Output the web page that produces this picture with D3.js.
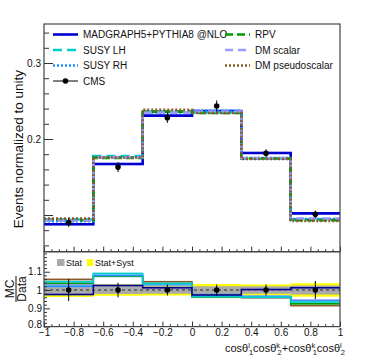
<!DOCTYPE html>
<html><head><meta charset="utf-8">
<script src="https://cdn.jsdelivr.net/npm/d3@7"></script>
<style>
html,body{margin:0;padding:0;background:#fff;}
svg{display:block;font-family:"Liberation Sans",Arial,sans-serif;}
</style></head>
<body><svg id="c" width="370" height="360"></svg>
<script>
// ---- data ----
const binEdges = [-1, -0.6667, -0.3333, 0, 0.3333, 0.6667, 1];
const binCenters = [-0.8333, -0.5, -0.1667, 0.1667, 0.5, 0.8333];
const dataVals = [0.0900, 0.1630, 0.2280, 0.2434, 0.1812, 0.1009];
const dataErrs = [0.0054, 0.0065, 0.0068, 0.0073, 0.0054, 0.0050];
const mgVals   = [0.0878, 0.1671, 0.2307, 0.2368, 0.1816, 0.1022];
const susyLH   = [0.0941, 0.1777, 0.2360, 0.2349, 0.1740, 0.0943];
const susyRH   = [0.0918, 0.1760, 0.2348, 0.2373, 0.1749, 0.0948];
const rpvVals  = [0.0933, 0.1752, 0.2360, 0.2342, 0.1743, 0.0933];
const dmScalar = [0.0927, 0.1760, 0.2348, 0.2361, 0.1749, 0.0954];
const dmPseudo = [0.0952, 0.1757, 0.2383, 0.2342, 0.1736, 0.0923];
const statErr  = [0.025, 0.022, 0.02, 0.02, 0.02, 0.025];
const totErr   = [0.038, 0.032, 0.03, 0.033, 0.03, 0.037];
const yTopMajor = [0.1, 0.2, 0.3];
const yTopLabels = ["", "0.2", "0.3"];
const yRatMajor = [0.8, 0.9, 1.0, 1.1];
const yRatLabels = ["0.8", "0.9", "1", "1.1"];
const xMajor = [-1, -0.8, -0.6, -0.4, -0.2, 0, 0.2, 0.4, 0.6, 0.8, 1];
const xLabels = ["\u22121","\u22120.8","\u22120.6","\u22120.4","\u22120.2","0","0.2","0.4","0.6","0.8","1"];

const series = [
  {name:"MADGRAPH5+PYTHIA8 @NLO", vals:mgVals, color:"#0000d0", rcolor:"#000080", dash:null, w:2.6, band:"#8080ff"},
  {name:"SUSY LH", vals:susyLH, color:"#00cccc", rcolor:"#00cccc", dash:"9,5", w:2.6, band:"#66e0e0"},
  {name:"SUSY RH", vals:susyRH, color:"#1e90ff", rcolor:"#1e90ff", dash:"2,2", w:2.6, band:"#66b3ff"},
  {name:"RPV", vals:rpvVals, color:"#009900", rcolor:"#009900", dash:"8,4", w:2.6, band:"#66c266"},
  {name:"DM scalar", vals:dmScalar, color:"#9999ff", rcolor:"#9999ff", dash:"8,5", w:2.6, band:"#c2c2ff"},
  {name:"DM pseudoscalar", vals:dmPseudo, color:"#8b5a2b", rcolor:"#8b5a2b", dash:"2,2", w:2.6, band:"#b89070"}
];

// ---- layout ----
const L = 44, R = 340, T = 24, MID = 251.7, B = 326.6;
const svg = d3.select("#c");
const x = d3.scaleLinear().domain([-1, 1]).range([L, R]);
const yT = d3.scaleLinear().domain([0.2 - (MID-139)/760, 0.2 + (139-T)/760]).range([MID, T]);
const yR = d3.scaleLinear().domain([0.8, 0.8 + (B-MID)/182.9]).range([B, MID]);
const axisCol = "#333";

function stepPts(vals){ const p = vals.map((v,i)=>[binEdges[i], v]); p.push([1, vals[vals.length-1]]); return p; }

// ---- ratio bands ----
const gR = svg.append("g");
const bandArea = d3.area().curve(d3.curveStepAfter).x(d=>x(d[0])).y0(d=>yR(1-d[1])).y1(d=>yR(1+d[1]));
gR.append("path").attr("d", bandArea(stepPts(totErr))).attr("fill", "#ffff00");
gR.append("path").attr("d", bandArea(stepPts(statErr))).attr("fill", "#aaaaaa");
gR.append("line").attr("x1", x(-1)).attr("x2", x(1)).attr("y1", yR(1)).attr("y2", yR(1))
  .attr("stroke", "#555").attr("stroke-width", 1.5).attr("stroke-dasharray", "3,3");

const ratioLine = d3.line().curve(d3.curveStepAfter).x(d=>x(d[0])).y(d=>yR(d[1]));
const ratioBand = d3.area().curve(d3.curveStepAfter).x(d=>x(d[0])).y0(d=>yR(d[1]-0.006)).y1(d=>yR(d[1]+0.006));
series.slice().reverse().forEach(s=>{
  const r = s.vals.map((v,i)=>v/dataVals[i]);
  const p = stepPts(r);
  gR.append("path").attr("d", ratioBand(p)).attr("fill", s.band).attr("opacity", 0.55);
  gR.append("path").attr("d", ratioLine(p)).attr("fill","none").attr("stroke", s.rcolor).attr("stroke-width", 1.5);
});
binCenters.forEach((c,i)=>{
  const e = dataErrs[i]/dataVals[i];
  gR.append("line").attr("x1", x(c)).attr("x2", x(c)).attr("y1", yR(1-e)).attr("y2", yR(1+e)).attr("stroke","#000").attr("stroke-width",1);
  gR.append("circle").attr("cx", x(c)).attr("cy", yR(1)).attr("r", 2.8).attr("fill","#000");
});

// ---- upper histograms ----
const gT = svg.append("g");
const topLine = d3.line().curve(d3.curveStepAfter).x(d=>x(d[0])).y(d=>yT(d[1]));
gT.append("path").attr("d", d3.area().curve(d3.curveStepAfter).x(d=>x(d[0])).y0(d=>yT(d[1]-0.0015)).y1(d=>yT(d[1]+0.0015))(stepPts(mgVals)))
  .attr("fill", "#a0a0ff").attr("opacity", 0.7);
series.forEach(s=>{
  gT.append("path").attr("d", topLine(stepPts(s.vals))).attr("fill","none")
    .attr("stroke", s.color).attr("stroke-width", s.w).attr("stroke-dasharray", s.dash);
});
binCenters.forEach((c,i)=>{
  gT.append("line").attr("x1", x(c)).attr("x2", x(c)).attr("y1", yT(dataVals[i]-dataErrs[i])).attr("y2", yT(dataVals[i]+dataErrs[i])).attr("stroke","#000").attr("stroke-width",1);
  gT.append("circle").attr("cx", x(c)).attr("cy", yT(dataVals[i])).attr("r", 2.8).attr("fill","#000");
});

// ---- axes ----
const fs = "10px";
function styleText(g){ g.selectAll("text").attr("font-size", fs).attr("font-family","Liberation Sans, Arial").attr("fill","#111"); }
const yTopMinor = d3.range(0.06, 0.35, 0.02).filter(v=>!yTopMajor.some(m=>Math.abs(m-v)<1e-6));
svg.append("g").attr("transform", `translate(${L},0)`)
  .call(d3.axisLeft(yT).tickValues(yTopMinor).tickSize(-5).tickFormat(""))
  .call(g=>g.select(".domain").remove()).selectAll("line").attr("stroke", axisCol);
svg.append("g").attr("transform", `translate(${L},0)`)
  .call(d3.axisLeft(yT).tickValues(yTopMajor).tickSize(-9).tickPadding(3).tickFormat((d,i)=>yTopLabels[i]))
  .call(g=>g.select(".domain").remove())
  .call(g=>g.selectAll("line").attr("stroke", axisCol))
  .call(styleText);
const yRatMinor = d3.range(0.8, 1.21, 0.02).filter(v=>!yRatMajor.some(m=>Math.abs(m-v)<1e-6));
svg.append("g").attr("transform", `translate(${L},0)`)
  .call(d3.axisLeft(yR).tickValues(yRatMinor).tickSize(-3).tickFormat(""))
  .call(g=>g.select(".domain").remove()).selectAll("line").attr("stroke", axisCol);
svg.append("g").attr("transform", `translate(${L},0)`)
  .call(d3.axisLeft(yR).tickValues(yRatMajor).tickSize(-6).tickPadding(2).tickFormat((d,i)=>yRatLabels[i]))
  .call(g=>g.select(".domain").remove())
  .call(g=>g.selectAll("line").attr("stroke", axisCol))
  .call(styleText)
  .call(g=>g.selectAll("text").filter(d=>Math.abs(d-0.8)<1e-6).attr("y",-2.2));
const xMinor = d3.range(-1, 1.001, 0.05).filter(v=>!xMajor.some(m=>Math.abs(m-v)<1e-6));
[MID, B].forEach((yy, k)=>{
  svg.append("g").attr("transform", `translate(0,${yy})`)
    .call(d3.axisBottom(x).tickValues(xMinor).tickSize(-2.5).tickFormat(""))
    .call(g=>g.select(".domain").remove()).selectAll("line").attr("stroke", axisCol);
  svg.append("g").attr("transform", `translate(0,${yy})`)
    .call(d3.axisBottom(x).tickValues(xMajor).tickSize(-5).tickPadding(2.8).tickFormat((d,i)=> k===1 ? xLabels[i] : ""))
    .call(g=>g.select(".domain").remove())
    .call(g=>g.selectAll("line").attr("stroke", axisCol))
    .call(styleText);
});
svg.append("rect").attr("x", L).attr("y", T).attr("width", R-L).attr("height", MID-T).attr("fill","none").attr("stroke","#444").attr("stroke-width",1.2);
svg.append("rect").attr("x", L).attr("y", MID).attr("width", R-L).attr("height", B-MID).attr("fill","none").attr("stroke","#444").attr("stroke-width",1.2);

// ---- titles ----
svg.append("text").attr("transform", "translate(23,70) rotate(-90)").attr("text-anchor","end")
  .attr("font-size","13.5px").attr("fill","#111").text("Events normalized to unity");
const fr = svg.append("g").attr("transform","translate(16,289) rotate(-90)");
fr.append("text").attr("x",0).attr("y",-2.5).attr("text-anchor","middle").attr("font-size","12px").attr("fill","#111").text("MC");
fr.append("line").attr("x1",-13).attr("x2",13).attr("y1",0).attr("y2",0).attr("stroke","#111").attr("stroke-width",1);
fr.append("text").attr("x",0).attr("y",10).attr("text-anchor","middle").attr("font-size","12px").attr("fill","#111").text("Data");

// x title: pieces with absolute baselines
const xt = svg.append("text").attr("x", 225).attr("y", 352).attr("font-size","11px").attr("fill","#111");
const parts = [["cos\u03b8","m"],["l","s"],["1","b"],["cos\u03b8","m"],["k","s"],["2","b"],["+cos\u03b8","m"],["k","s"],["1","b"],["cos\u03b8","m"],["l","s"],["2","b"]];
parts.forEach((p,i)=>{
  const t = xt.append("tspan").text(p[0]);
  if(p[1]==="s"){ t.attr("font-size","7.5px").attr("y",347.5); }
  else if(p[1]==="b"){ t.attr("font-size","7.5px").attr("y",355).attr("dx", parts[i-1][0]==="k" ? -2.5 : -1); }
  else { t.attr("y",352); }
});

// ---- legend (upper) ----
const legL = [series[0], series[1], series[2], {name:"CMS", cms:true}];
const legR = [series[3], series[4], series[5]];
function legItem(s, x0, yy){
  if(s.cms){
    svg.append("line").attr("x1",x0).attr("x2",x0+25).attr("y1",yy).attr("y2",yy).attr("stroke","#000").attr("stroke-width",1);
    svg.append("circle").attr("cx",x0+12.5).attr("cy",yy).attr("r",2.8).attr("fill","#000");
  } else {
    svg.append("line").attr("x1",x0).attr("x2",x0+25).attr("y1",yy).attr("y2",yy).attr("stroke",s.color).attr("stroke-width",2.6).attr("stroke-dasharray",s.dash);
  }
  svg.append("text").attr("x",x0+30).attr("y",yy+3.6).attr("font-size","10px").attr("fill","#111").text(s.name);
}
legL.forEach((s,i)=>legItem(s, 53, 34.5 + i*15.5));
legR.forEach((s,i)=>legItem(s, 225, 34.5 + i*15.5));

// ---- legend (ratio) ----
svg.append("rect").attr("x",57).attr("y",259).attr("width",7.5).attr("height",7).attr("fill","#aaaaaa");
svg.append("text").attr("x",66).attr("y",266).attr("font-size","9px").attr("fill","#111").text("Stat");
svg.append("rect").attr("x",87).attr("y",259).attr("width",6).attr("height",7).attr("fill","#ffff00");
svg.append("text").attr("x",95).attr("y",266).attr("font-size","9px").attr("fill","#111").text("Stat+Syst");
</script></body></html>
